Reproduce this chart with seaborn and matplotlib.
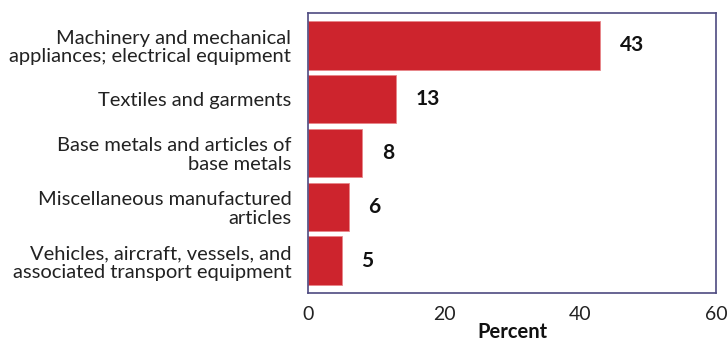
import matplotlib
matplotlib.use("Agg")
import matplotlib.pyplot as plt
import seaborn as sns
import pandas as pd

categories = [
    "Machinery and mechanical\nappliances; electrical equipment",
    "Textiles and garments",
    "Base metals and articles of\nbase metals",
    "Miscellaneous manufactured\narticles",
    "Vehicles, aircraft, vessels, and\nassociated transport equipment",
]
values = [43, 13, 8, 6, 5]
x_ticks = [0, 20, 40, 60]

sns.set_theme(style="white")
plt.rcParams["font.family"] = ["Lato", "DejaVu Sans"]

df = pd.DataFrame({"category": categories, "value": values})

fig = plt.figure(figsize=(7.28, 3.43), dpi=100)
ax = fig.add_axes([308 / 728, 50 / 343, 408 / 728, 280 / 343])

sns.barplot(data=df, x="value", y="category", orient="h", color="#CD242D",
            saturation=1, width=0.9, edgecolor="#E8868A", linewidth=0.6, ax=ax)

ax.set_xlim(0, 60)
ax.set_ylim(4.6, -0.6)
ax.set_xticks(x_ticks)
ax.set_xticklabels([str(t) for t in x_ticks], fontsize=14, color="#222222")
ax.tick_params(axis="y", labelsize=14.5, labelcolor="#222222", length=0, pad=12)
ax.tick_params(axis="x", length=0, pad=9)
for lbl in ax.get_yticklabels():
    lbl.set_horizontalalignment("right")
    lbl.set_multialignment("right")
    lbl.set_linespacing(1.1)
ax.set_ylabel("")
ax.set_xlabel("Percent", fontsize=14.5, fontweight="bold", color="#111111", labelpad=0)

for i, v in enumerate(values):
    ax.annotate(str(v), xy=(v, i), xytext=(14, 0), textcoords="offset points",
                va="center", ha="left", fontsize=15, fontweight="bold",
                color="#111111")

for s in ax.spines.values():
    s.set_visible(True)
    s.set_color("#4E4A80")
    s.set_linewidth(1.2)

fig.savefig("out.png", dpi=100)
